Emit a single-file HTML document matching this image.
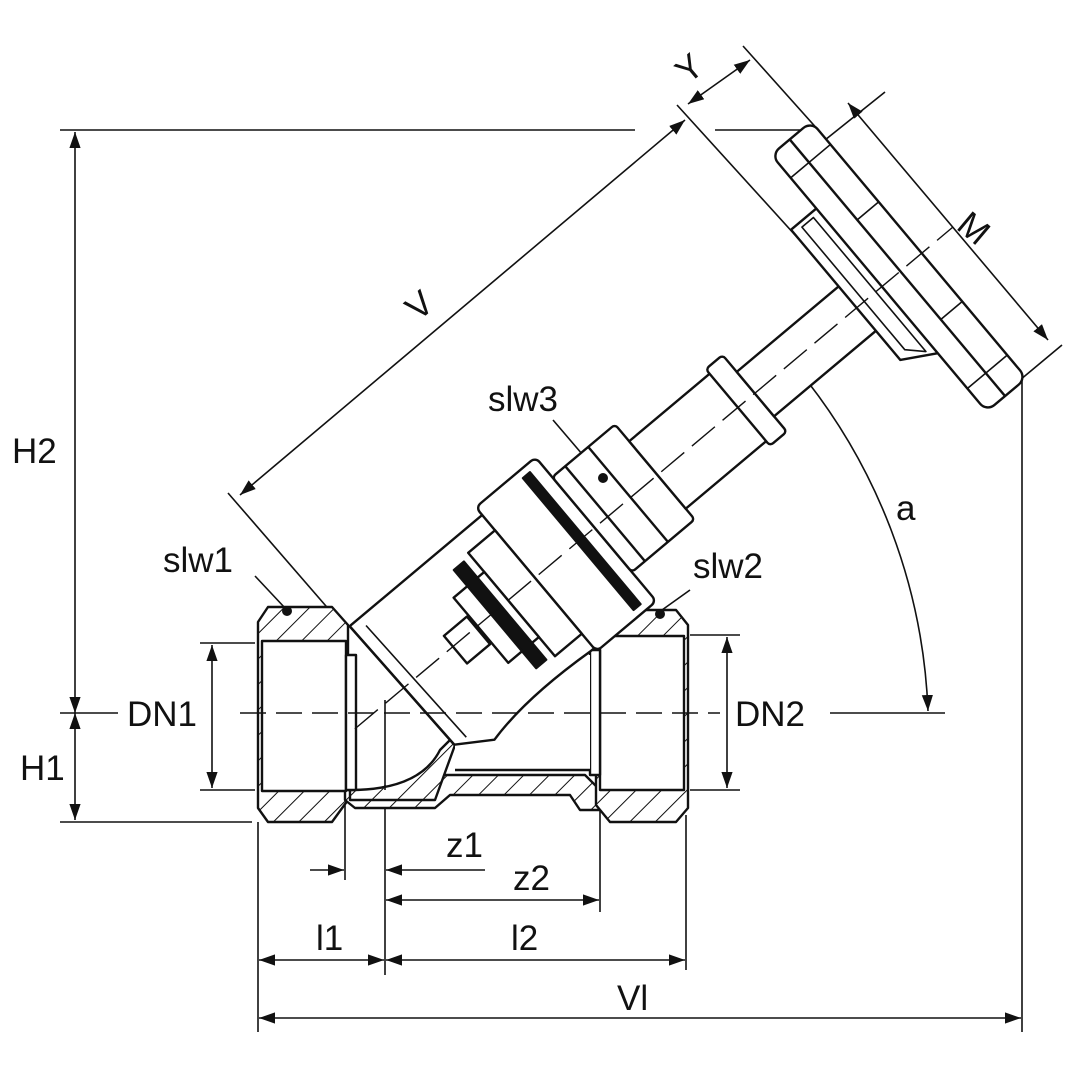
<!DOCTYPE html>
<html><head><meta charset="utf-8"><style>
html,body{margin:0;padding:0;background:#fff}
svg{display:block}
text{font-family:"Liberation Sans",sans-serif;font-size:35px;fill:#111}
</style></head><body>
<svg width="1080" height="1080" viewBox="0 0 1080 1080" xmlns="http://www.w3.org/2000/svg">
<defs>
<pattern id="h" patternUnits="userSpaceOnUse" width="18" height="18" patternTransform="rotate(45)">
<rect width="18" height="18" fill="#fff"/><line x1="0" y1="0" x2="0" y2="18" stroke="#111" stroke-width="2"/>
</pattern>
<marker id="a" viewBox="0 0 10 10" refX="10" refY="5" markerWidth="16" markerHeight="16" markerUnits="userSpaceOnUse" orient="auto-start-reverse">
<path d="M0,1.5 L10,5 L0,8.5 Z" fill="#111"/></marker>
</defs>
<g stroke="#111" fill="none" stroke-width="1.6">
<line x1="60" y1="130" x2="635" y2="130"/><line x1="715" y1="130" x2="800" y2="130"/>
<line x1="60" y1="822" x2="252" y2="822"/>
<line x1="60" y1="713" x2="118" y2="713"/>
<line x1="200" y1="643" x2="255" y2="643"/><line x1="200" y1="790" x2="255" y2="790"/>
<line x1="690" y1="635" x2="740" y2="635"/><line x1="690" y1="790" x2="740" y2="790"/>
<line x1="830" y1="713" x2="945" y2="713"/>
<line x1="258" y1="822" x2="258" y2="1032"/>
<line x1="686" y1="815" x2="686" y2="970"/>
<line x1="1022" y1="378" x2="1022" y2="1032"/>
<line x1="345" y1="800" x2="345" y2="880"/>
<line x1="385" y1="785" x2="385" y2="975"/>
<line x1="600" y1="810" x2="600" y2="912"/>
<line x1="228" y1="493" x2="345" y2="628"/>
<line x1="677" y1="105" x2="825" y2="268"/>
<line x1="743" y1="46" x2="820" y2="132"/>
<line x1="885" y1="92" x2="800" y2="160" />
<line x1="1062" y1="345" x2="1020" y2="380"/>
<line x1="255" y1="576" x2="285" y2="608"/>
<line x1="690" y1="590" x2="662" y2="610"/>
<line x1="553" y1="420" x2="600" y2="475"/>
<line x1="75" y1="713" x2="75" y2="132" marker-end="url(#a)" marker-start="url(#a)"/>
<line x1="75" y1="713" x2="75" y2="820" marker-end="url(#a)" marker-start="url(#a)"/>
<line x1="212" y1="645" x2="212" y2="788" marker-end="url(#a)" marker-start="url(#a)"/>
<line x1="727" y1="637" x2="727" y2="788" marker-end="url(#a)" marker-start="url(#a)"/>
<line x1="310" y1="870" x2="344" y2="870" marker-end="url(#a)"/>
<line x1="485" y1="870" x2="386" y2="870" marker-end="url(#a)"/>
<line x1="386" y1="900" x2="599" y2="900" marker-end="url(#a)" marker-start="url(#a)"/>
<line x1="259" y1="960" x2="384" y2="960" marker-end="url(#a)" marker-start="url(#a)"/>
<line x1="386" y1="960" x2="685" y2="960" marker-end="url(#a)" marker-start="url(#a)"/>
<line x1="259" y1="1018" x2="1021" y2="1018" marker-end="url(#a)" marker-start="url(#a)"/>
<line x1="240" y1="495" x2="685" y2="120" marker-end="url(#a)" marker-start="url(#a)"/>
<line x1="688" y1="104" x2="750" y2="60" marker-end="url(#a)" marker-start="url(#a)"/>
<line x1="848" y1="103" x2="1048" y2="340" marker-end="url(#a)" marker-start="url(#a)"/>
<path d="M800,372 A572,572 0 0 1 928,711" marker-end="url(#a)" marker-start="url(#a)"/>
</g>
<!-- body -->
<g stroke="#111" stroke-width="2.4" stroke-linejoin="round">
<path d="M258,622 L268,607 L332,607 L348,625 L348,800 L332,822 L268,822 L258,808 Z" fill="url(#h)"/>
<path d="M345,800 L345,790 L430,790 L440,775 L585,775 L600,790 L600,810 L580,810 L570,795 L450,795 L435,808 L355,808 Z" fill="url(#h)"/>
<path d="M596,620 L610,610 L676,610 L688,625 L688,808 L676,822 L610,822 L596,805 Z" fill="url(#h)"/>
<path d="M350,790 Q420,790 440,750 L455,735 L455,745 L435,800 L350,800 Z" fill="url(#h)"/>
<rect x="262" y="641" width="84" height="150" fill="#fff"/>
<rect x="346" y="655" width="10" height="135" fill="#fff"/>
<rect x="600" y="636" width="84" height="154" fill="#fff"/>
<rect x="590" y="650" width="10" height="125" fill="#fff"/>
<path d="M455,745 L455,770 L590,770 L590,655 L560,655 Q480,670 455,710 Z" fill="#fff" stroke="none"/>
<line x1="455" y1="770" x2="590" y2="770"/>
<line x1="385" y1="700" x2="385" y2="790" stroke-width="1.6"/>
</g>
<!-- rotated bonnet assembly -->
<g transform="translate(360,735) rotate(-40)" stroke="#111" stroke-width="2.4" fill="#fff" stroke-linejoin="round">
<path d="M62,-90 L250,-90 L250,84 L230,84 Q150,78 100,90 L66,68 Z"/>
<line x1="62" y1="-90" x2="66" y2="68"/>
<line x1="75" y1="-80" x2="80" y2="70" stroke-width="1.6"/>
<rect x="235" y="-100" width="78" height="188" rx="6"/>
<rect x="290" y="-92" width="9" height="172" fill="#111"/>
<rect x="200" y="-70" width="35" height="135"/>
<rect x="160" y="-45" width="40" height="85"/>
<rect x="178" y="-66" width="13" height="128" fill="#111"/>
<rect x="128" y="-22" width="30" height="36"/>
<rect x="313" y="-74" width="82" height="124" rx="4"/>
<line x1="330" y1="-74" x2="330" y2="50"/><line x1="360" y1="-74" x2="360" y2="50"/>
<rect x="395" y="-52" width="115" height="88"/>
<rect x="500" y="-58" width="22" height="100" rx="4"/>
<rect x="522" y="-36" width="160" height="58"/>
<path d="M655,-110 L690,-110 L690,80 L655,60 Z"/>
<path d="M665,-105 L680,-105 L680,70 L665,55 Z" fill="none" stroke-width="1.6"/>
<rect x="688" y="-180" width="52" height="335" rx="10"/>
<line x1="712" y1="-180" x2="712" y2="155"/>
<line x1="688" y1="-150" x2="740" y2="-150" stroke-width="1.6"/>
<line x1="688" y1="125" x2="740" y2="125" stroke-width="1.6"/>
<line x1="712" y1="-75" x2="740" y2="-75" stroke-width="1.6"/>
<line x1="712" y1="55" x2="740" y2="55" stroke-width="1.6"/>
<line x1="0" y1="-8" x2="780" y2="-8" stroke-width="1.4" stroke-dasharray="30,10"/>
</g>
<line x1="240" y1="713" x2="720" y2="713" stroke="#111" stroke-width="1.4" stroke-dasharray="26,10"/>
<circle cx="287" cy="611" r="5" fill="#111"/>
<circle cx="660" cy="614" r="5" fill="#111"/>
<circle cx="603" cy="478" r="5" fill="#111"/>
<text x="12" y="463">H2</text>
<text x="20" y="780">H1</text>
<text x="127" y="726">DN1</text>
<text x="735" y="726">DN2</text>
<text x="163" y="572">slw1</text>
<text x="693" y="578">slw2</text>
<text x="488" y="411">slw3</text>
<text x="896" y="520">a</text>
<text x="446" y="857">z1</text>
<text x="513" y="890">z2</text>
<text x="316" y="950">l1</text>
<text x="511" y="950">l2</text>
<text x="617" y="1010">Vl</text>
<text transform="translate(418,322) rotate(-40)">V</text>
<text transform="translate(688,85) rotate(-40)">Y</text>
<text transform="translate(955,228) rotate(40)">M</text>
</svg>
</body></html>
